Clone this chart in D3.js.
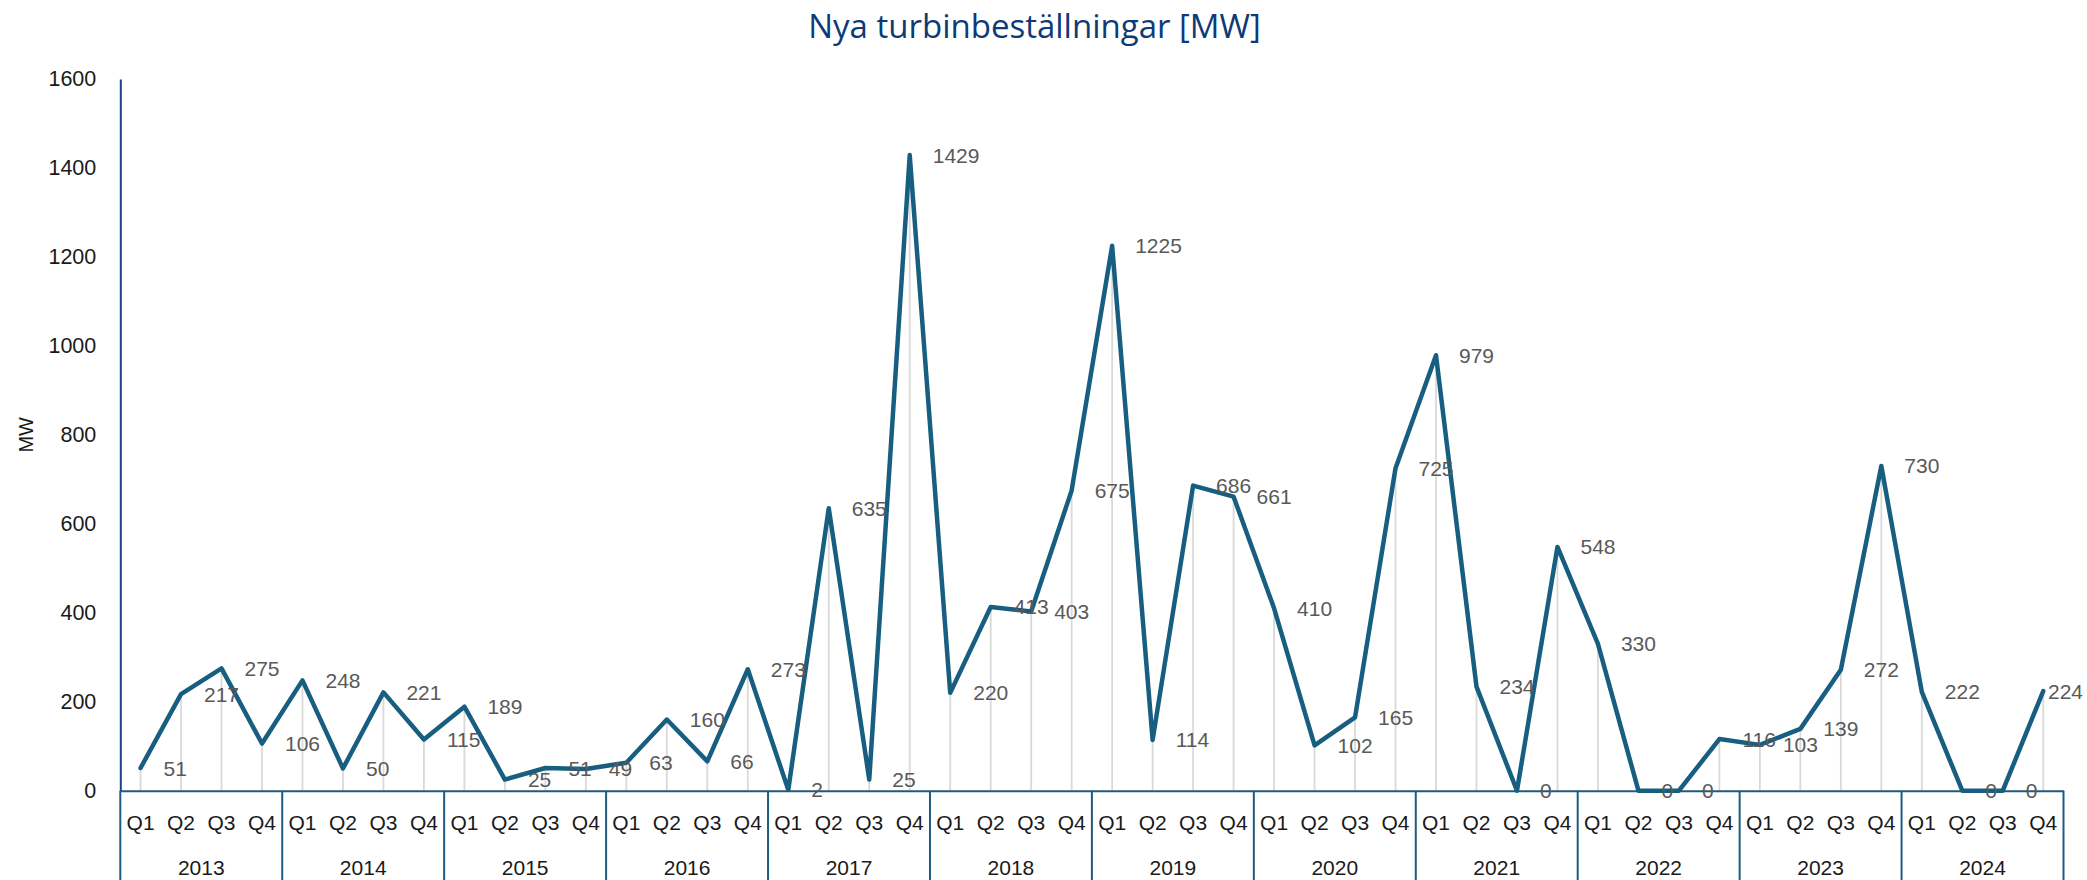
<!DOCTYPE html>
<html>
<head>
<meta charset="utf-8">
<script src="https://cdn.jsdelivr.net/npm/d3@7"></script>
<style>
  html, body { margin: 0; padding: 0; background: #ffffff; }
  svg { display: block; }
</style>
</head>
<body>
<svg id="chart" width="2087" height="880"></svg>
<script>
// ---- data ----
const years = ["2013","2014","2015","2016","2017","2018","2019","2020","2021","2022","2023","2024"];
const quarters = ["Q1","Q2","Q3","Q4"];
const values = [
  51, 217, 275, 106,
  248, 50, 221, 115,
  189, 25, 51, 49,
  63, 160, 66, 273,
  2, 635, 25, 1429,
  220, 413, 403, 675,
  1225, 114, 686, 661,
  410, 102, 165, 725,
  979, 234, 0, 548,
  330, 0, 0, 116,
  103, 139, 272, 730,
  222, 0, 0, 224
];
const yTicks = [0, 200, 400, 600, 800, 1000, 1200, 1400, 1600];
const titleText = "Nya turbinbeställningar [MW]";
const yLabel = "MW";

(function () {
// ---- layout ----
const W = 2087, H = 880;
const pLeft = 120.3, pRight = 2063.5, pTop = 79, pBottom = 790.7;

const svg = d3.select("#chart");

const idx = d3.range(values.length);
const x = d3.scaleBand().domain(idx).range([pLeft, pRight]).padding(0);
const yScale = d3.scaleLinear().domain([0, 1600]).range([pBottom, pTop]);
const xYear = d3.scaleBand().domain(years).range([pLeft, pRight]).padding(0);
const bw = x.bandwidth();
const cx = i => x(i) + bw / 2;

// title
svg.append("text")
  .attr("x", 1034.5).attr("y", 37.5)
  .attr("text-anchor", "middle")
  .attr("font-family", "'Open Sans', 'Noto Sans', sans-serif")
  .attr("font-size", 33)
  .attr("fill", "#0e3a78")
  .text(titleText);

// y axis label
svg.append("text")
  .attr("transform", `translate(26,${(pTop + pBottom) / 2}) rotate(-90)`)
  .attr("text-anchor", "middle")
  .attr("dominant-baseline", "central")
  .attr("font-family", "'Liberation Sans', Arial, sans-serif")
  .attr("font-size", 20)
  .attr("fill", "#1a1a1a")
  .text(yLabel);

// drop lines
svg.append("g").selectAll("line")
  .data(idx)
  .join("line")
  .attr("x1", i => cx(i)).attr("x2", i => cx(i))
  .attr("y1", i => yScale(values[i])).attr("y2", yScale(0))
  .attr("stroke", "#d9d9d9")
  .attr("stroke-width", 1.8);

// y axis
const yAxis = svg.append("g")
  .attr("transform", `translate(${pLeft},0)`)
  .call(d3.axisLeft(yScale).tickValues(yTicks).tickSize(0).tickPadding(24).tickFormat(d3.format("d")));
yAxis.select(".domain").attr("stroke", "#203f86").attr("stroke-width", 2);
yAxis.selectAll("text")
  .attr("font-family", "'Liberation Sans', Arial, sans-serif")
  .attr("font-size", 21.5)
  .attr("fill", "#1a1a1a");

// x axis: quarters
const xAxis = svg.append("g")
  .attr("transform", `translate(0,${pBottom})`)
  .call(d3.axisBottom(x).tickSize(0).tickPadding(0).tickFormat(i => quarters[i % 4]));
xAxis.select(".domain").attr("stroke", "#1f5a80").attr("stroke-width", 2);
xAxis.selectAll("text")
  .attr("y", 31.5)
  .attr("dy", null)
  .attr("dominant-baseline", "central")
  .attr("font-family", "'Liberation Sans', Arial, sans-serif")
  .attr("font-size", 21)
  .attr("fill", "#1a1a1a");

// x axis: years
const yearAxis = svg.append("g")
  .attr("transform", `translate(0,${pBottom})`)
  .call(d3.axisBottom(xYear).tickSize(0).tickPadding(0));
yearAxis.select(".domain").remove();
yearAxis.selectAll("text")
  .attr("y", 77)
  .attr("dy", null)
  .attr("dominant-baseline", "central")
  .attr("font-family", "'Liberation Sans', Arial, sans-serif")
  .attr("font-size", 21)
  .attr("fill", "#1a1a1a");

// year separators
const bounds = years.map(yr => xYear(yr)).concat([pRight]);
svg.append("g").selectAll("line")
  .data(bounds)
  .join("line")
  .attr("x1", d => d).attr("x2", d => d)
  .attr("y1", pBottom).attr("y2", H)
  .attr("stroke", "#1f5a80")
  .attr("stroke-width", 2);

// line
const line = d3.line()
  .x(i => cx(i))
  .y(i => yScale(values[i]));
svg.append("path")
  .datum(idx)
  .attr("d", line)
  .attr("fill", "none")
  .attr("stroke", "#175e80")
  .attr("stroke-width", 4.5)
  .attr("stroke-linejoin", "round")
  .attr("stroke-linecap", "round");

// data labels (kept inside the picture, as the reference does for the last one)
svg.append("g").selectAll("text")
  .data(idx)
  .join("text")
  .attr("y", i => yScale(values[i]))
  .attr("dominant-baseline", "central")
  .attr("font-family", "'Liberation Sans', Arial, sans-serif")
  .attr("font-size", 21)
  .attr("fill", "#595959")
  .text(i => values[i])
  .attr("x", function (i) {
    const w = this.getComputedTextLength();
    return Math.min(cx(i) + 23, W - 4 - w);
  });
})();
</script>
</body>
</html>
